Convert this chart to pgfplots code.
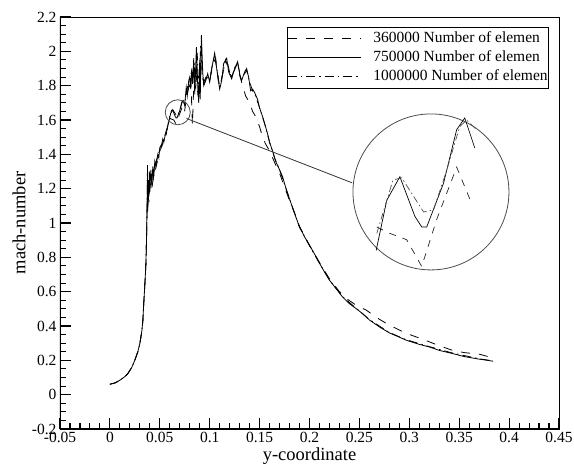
\documentclass[border=0pt]{standalone}
\usepackage{fontspec}
\setmainfont{Liberation Serif}
\usepackage{pgfplots}
\pgfplotsset{compat=1.18}
\usepackage{pgfplotstable}

\pgfplotstableread{
x y
0.0000 0.061
0.0050 0.068
0.0100 0.084
0.0150 0.105
0.0180 0.123
0.0220 0.160
0.0250 0.201
0.0280 0.250
0.0300 0.298
0.0320 0.370
0.0330 0.430
0.0340 0.540
0.0350 0.640
0.0360 0.750
0.0367 0.900
0.0372 1.050
0.0380 1.200
0.0390 1.120
0.0400 1.240
0.0420 1.200
0.0440 1.280
0.0460 1.320
0.0480 1.370
0.0500 1.420
0.0530 1.460
0.0560 1.500
0.0592 1.612
0.0613 1.606
0.0640 1.600
0.0664 1.575
0.0688 1.619
0.0720 1.668
0.0744 1.634
0.0765 1.720
0.0790 1.790
0.0810 1.850
0.0827 1.570
0.0840 1.800
0.0860 1.900
0.0880 1.760
0.0900 1.850
0.0920 1.950
0.0940 1.820
0.0970 1.860
0.1000 1.830
0.1030 1.920
0.1060 1.960
0.1090 1.810
0.1120 1.840
0.1150 1.920
0.1180 1.930
0.1210 1.850
0.1240 1.880
0.1270 1.920
0.1300 1.860
0.1330 1.800
0.1360 1.740
0.1400 1.700
0.1430 1.650
0.1460 1.620
0.1500 1.560
0.1530 1.500
0.1560 1.460
0.1600 1.420
0.1630 1.380
0.1660 1.340
0.1700 1.290
0.1750 1.210
0.1800 1.130
0.1850 1.060
0.1900 0.980
0.2000 0.870
0.2100 0.770
0.2200 0.675
0.2300 0.600
0.2370 0.560
0.2470 0.520
0.2570 0.492
0.2670 0.450
0.2770 0.415
0.2870 0.385
0.2970 0.357
0.3100 0.330
0.3200 0.308
0.3300 0.285
0.3430 0.259
0.3550 0.245
0.3700 0.236
0.3820 0.217
}\dataA

\pgfplotstableread{
x y
0.0000 0.061
0.0050 0.068
0.0100 0.084
0.0150 0.105
0.0180 0.123
0.0220 0.160
0.0250 0.201
0.0280 0.250
0.0300 0.298
0.0320 0.370
0.0330 0.430
0.0340 0.540
0.0350 0.640
0.0360 0.750
0.0367 0.900
0.0372 1.080
0.0375 1.200
0.0377 1.337
0.0379 1.070
0.0385 1.250
0.0390 1.150
0.0395 1.300
0.0400 1.180
0.0410 1.310
0.0420 1.220
0.0430 1.330
0.0440 1.270
0.0450 1.360
0.0460 1.330
0.0480 1.400
0.0490 1.380
0.0500 1.440
0.0520 1.460
0.0530 1.490
0.0540 1.470
0.0560 1.530
0.0575 1.555
0.0591 1.590
0.0608 1.637
0.0629 1.659
0.0653 1.622
0.0664 1.612
0.0672 1.612
0.0699 1.653
0.0720 1.703
0.0733 1.714
0.0749 1.686
0.0765 1.790
0.0775 1.740
0.0790 1.830
0.0800 1.850
0.0810 1.780
0.0820 1.900
0.0830 1.820
0.0840 1.960
0.0850 1.750
0.0867 2.025
0.0880 1.800
0.0890 1.700
0.0900 1.950
0.0905 1.720
0.0917 2.094
0.0930 1.880
0.0940 1.800
0.0960 1.830
0.0980 1.870
0.1000 1.820
0.1020 1.900
0.1050 1.990
0.1070 1.900
0.1100 1.780
0.1120 1.830
0.1140 1.930
0.1170 1.960
0.1190 1.880
0.1220 1.840
0.1250 1.900
0.1280 1.940
0.1300 1.870
0.1320 1.830
0.1350 1.880
0.1370 1.900
0.1390 1.850
0.1410 1.770
0.1430 1.780
0.1450 1.760
0.1480 1.720
0.1500 1.670
0.1530 1.620
0.1550 1.580
0.1580 1.520
0.1600 1.470
0.1630 1.420
0.1660 1.360
0.1700 1.310
0.1730 1.270
0.1760 1.210
0.1800 1.140
0.1830 1.090
0.1860 1.040
0.1900 0.977
0.1950 0.920
0.2000 0.870
0.2050 0.820
0.2100 0.766
0.2150 0.715
0.2200 0.667
0.2270 0.615
0.2330 0.570
0.2400 0.530
0.2470 0.500
0.2530 0.473
0.2600 0.435
0.2700 0.395
0.2800 0.360
0.2900 0.335
0.2970 0.317
0.3100 0.293
0.3200 0.278
0.3300 0.258
0.3430 0.240
0.3550 0.222
0.3700 0.207
0.3840 0.195
}\dataB

\pgfplotstableread{
x y
0.0000 0.061
0.0050 0.068
0.0100 0.084
0.0150 0.105
0.0180 0.123
0.0220 0.160
0.0250 0.201
0.0280 0.250
0.0300 0.298
0.0320 0.370
0.0330 0.430
0.0340 0.540
0.0350 0.640
0.0360 0.750
0.0367 0.900
0.0372 1.100
0.0376 1.300
0.0380 1.090
0.0387 1.240
0.0393 1.170
0.0400 1.280
0.0410 1.200
0.0420 1.300
0.0435 1.260
0.0450 1.340
0.0470 1.370
0.0490 1.410
0.0510 1.440
0.0530 1.470
0.0550 1.510
0.0575 1.550
0.0592 1.606
0.0618 1.656
0.0632 1.658
0.0667 1.626
0.0683 1.628
0.0704 1.665
0.0725 1.706
0.0736 1.712
0.0752 1.703
0.0770 1.770
0.0785 1.810
0.0800 1.780
0.0815 1.880
0.0830 1.800
0.0845 1.930
0.0860 1.780
0.0875 1.990
0.0890 1.760
0.0910 2.040
0.0925 1.850
0.0945 1.810
0.0970 1.850
0.1000 1.830
0.1030 1.930
0.1050 1.970
0.1080 1.870
0.1100 1.790
0.1130 1.870
0.1160 1.950
0.1190 1.890
0.1220 1.850
0.1260 1.920
0.1280 1.930
0.1310 1.850
0.1340 1.860
0.1370 1.890
0.1400 1.820
0.1430 1.770
0.1460 1.740
0.1500 1.670
0.1550 1.580
0.1600 1.470
0.1650 1.380
0.1700 1.310
0.1800 1.140
0.1900 0.975
0.2000 0.868
0.2100 0.765
0.2200 0.668
0.2330 0.572
0.2470 0.502
0.2600 0.438
0.2800 0.362
0.2970 0.320
0.3200 0.280
0.3430 0.243
0.3700 0.209
0.3840 0.197
}\dataC

% zoomed window data (inset)
\pgfplotstableread{
x y
0.0592 1.612
0.0613 1.606
0.0640 1.600
0.0664 1.575
0.0688 1.619
0.0720 1.668
0.0744 1.634
}\zoomA
\pgfplotstableread{
x y
0.0591 1.590
0.0608 1.637
0.0629 1.659
0.0653 1.622
0.0664 1.612
0.0672 1.612
0.0699 1.653
0.0720 1.703
0.0733 1.714
0.0749 1.686
}\zoomB
\pgfplotstableread{
x y
0.0592 1.606
0.0618 1.656
0.0632 1.658
0.0667 1.626
0.0683 1.628
0.0704 1.665
0.0725 1.706
0.0736 1.712
0.0752 1.703
}\zoomC

\begin{document}
\begin{tikzpicture}
\begin{axis}[
  name=main,
  at={(0,0)}, anchor=south west,
  scale only axis,
  width=499bp, height=412bp,
  xmin=-0.05, xmax=0.45, ymin=-0.2, ymax=2.2,
  xtick={-0.05,0,0.05,0.1,0.15,0.2,0.25,0.3,0.35,0.4,0.45},
  ytick={-0.2,0,0.2,0.4,0.6,0.8,1,1.2,1.4,1.6,1.8,2,2.2},
  minor x tick num=4, minor y tick num=3,
  tick pos=left, tick align=inside,
  major tick length=11bp, minor tick length=6bp,
  every tick/.append style={black, line width=1.1bp},
  axis line style={line width=0.8bp},
  /pgf/number format/.cd, fixed, precision=2, assume math mode=true, /pgfplots/.cd,
  ticklabel style={font=\fontsize{15.5bp}{18bp}\selectfont},
  xlabel={y-coordinate}, ylabel={mach-number},
  label style={font=\fontsize{18.5bp}{22bp}\selectfont},
  x label style={at={(axis description cs:0.5,-0.066)}, anchor=center},
  y label style={at={(axis description cs:-0.082,0.5)}, anchor=center, rotate=0},
  legend style={at={(0.98,0.976)}, anchor=north east, draw=black, line width=0.8bp,
    inner xsep=0pt, inner ysep=2bp,
    font=\fontsize{15.5bp}{18bp}\selectfont,
    nodes={inner xsep=1bp, inner ysep=1.5bp, text height=12bp, text depth=4bp},
    cells={anchor=west}},
  /tikz/every odd column/.append style={column sep=11bp},
  legend image code/.code={\draw[#1, line width=0.8bp] (0bp,0bp) -- (73bp,0bp);},
]
\addplot[black, line width=0.8bp, dash pattern=on 9bp off 9bp] table[x=x,y=y] {\dataA};
\addlegendentry{360000 Number of elemen}
\addplot[black, line width=0.8bp] table[x=x,y=y] {\dataB};
\addlegendentry{750000 Number of elemen}
\addplot[black, line width=0.8bp, dash pattern=on 9bp off 4bp on 1.5bp off 4bp] table[x=x,y=y] {\dataC};
\addlegendentry{1000000 Number of elemen}
\draw[black!70, line width=0.8bp] (axis cs:0.068,1.645) circle[radius=12.5bp];
\draw[black!70, line width=0.8bp] (axis cs:0.3217,1.181) circle[radius=78bp];
\draw[black!80, line width=0.8bp] (axis cs:0.0767,1.609) -- (axis cs:0.2427,1.234);
\draw[black, line width=1.6bp] (rel axis cs:0,1) -- (rel axis cs:0,0) -- (rel axis cs:1,0);
\end{axis}
\begin{axis}[
  at={(293.7bp,159.3bp)}, anchor=south west,
  scale only axis, width=156bp, height=156bp,
  hide axis,
  xmin=0.0555, xmax=0.0805, ymin=1.572, ymax=1.718,
]
\addplot[black!85, line width=0.7bp, dash pattern=on 7bp off 7bp] table[x=x,y=y] {\zoomA};
\addplot[black, line width=0.7bp] table[x=x,y=y] {\zoomB};
\addplot[black!70, line width=0.7bp, dash pattern=on 7bp off 3bp on 1.5bp off 3bp] table[x=x,y=y] {\zoomC};
\end{axis}
\pgfresetboundingbox
\path[use as bounding box] (-60bp,-36bp) rectangle (514bp,429bp);
\end{tikzpicture}
\end{document}
